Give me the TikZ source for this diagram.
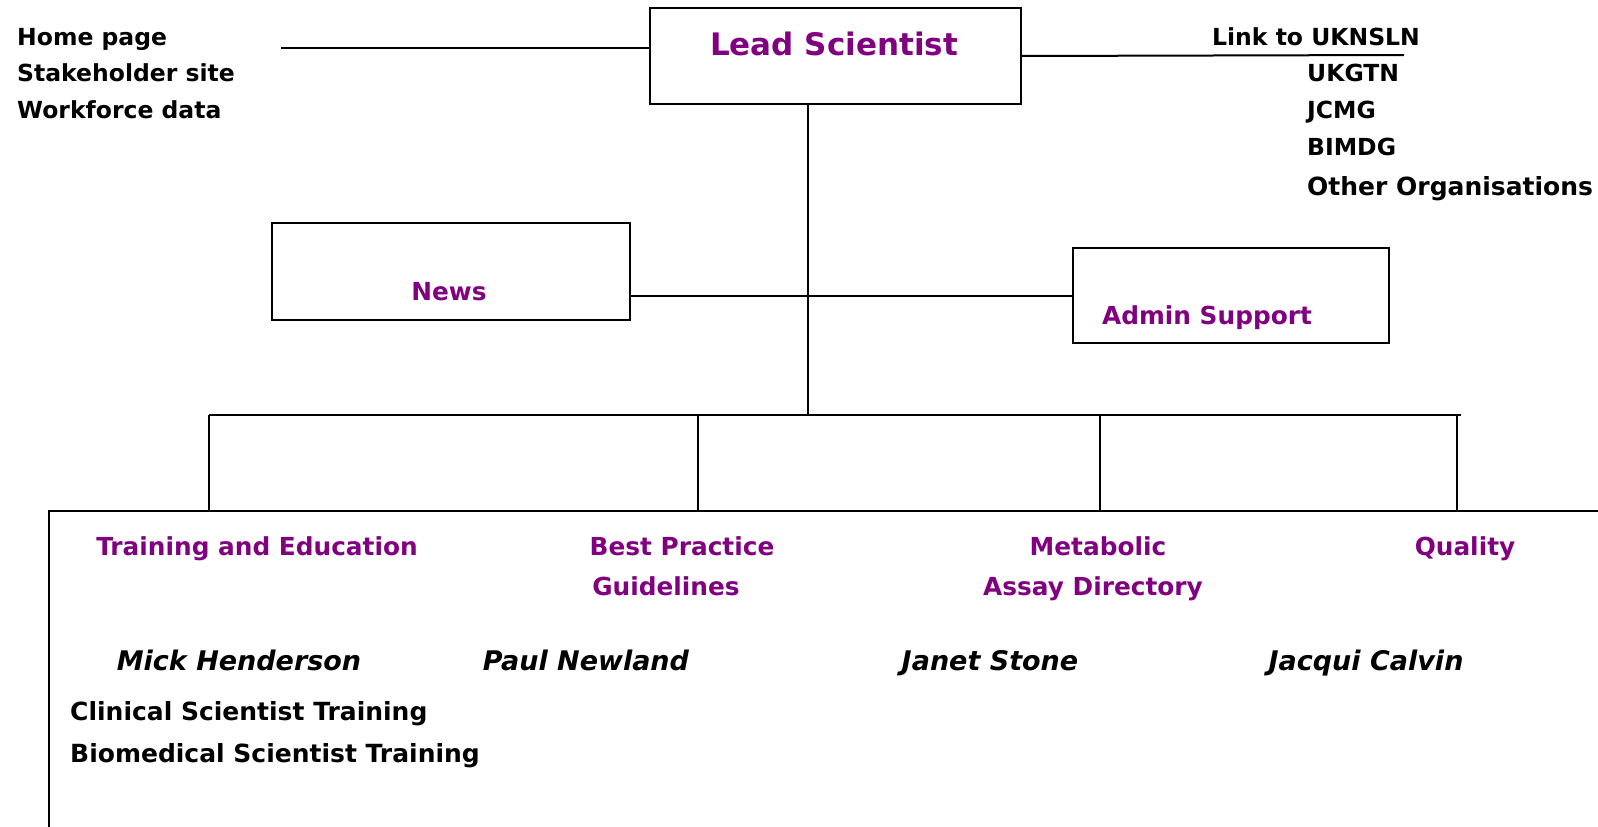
\documentclass[tikz,border=0pt]{standalone}
\usepackage{fontspec}
\setmainfont{DejaVu Sans}
\definecolor{hdr}{RGB}{128,0,128}
\begin{document}
\begin{tikzpicture}[x=1pt,y=-1pt,
  boxn/.style={draw,line width=2pt,inner sep=0pt,anchor=north west},
  conn/.style={line width=2pt},
  purp/.style={text=hdr,font=\fontsize{24.8}{29}\selectfont\bfseries,anchor=mid,inner sep=0pt},
  blk/.style={text=black,font=\fontsize{23.5}{28}\selectfont\bfseries,anchor=mid west,inner sep=0pt},
  blkl/.style={blk,font=\fontsize{25}{30}\selectfont\bfseries},
  nm/.style={text=black,font=\fontsize{27}{32}\selectfont\bfseries\itshape,anchor=mid,inner sep=0pt}]
\useasboundingbox (0,0) rectangle (1598,827);
% boxes
\node[boxn,minimum width=371pt,minimum height=96pt] (lead) at (649,7) {};
\node[boxn,minimum width=358pt,minimum height=97pt] (news) at (271,222) {};
\node[boxn,minimum width=316pt,minimum height=95pt] (admin) at (1072,247) {};
% texts
\node[purp,font=\fontsize{31}{36}\selectfont\bfseries] (leadt) at (834,53) {Lead Scientist};
\node[purp] (newst) at (449,298) {News};
\node[purp] (admint) at (1207,322) {Admin Support};
\node[blk] (hp) at (17,43) {Home page};
\node[blk] (sh) at (17,79) {Stakeholder site};
\node[blk] (wf) at (17,116) {Workforce data};
\node[blk,anchor=mid] (lk) at (1316,43) {Link to UKNSLN};
\node[blk] (uk) at (1307,79) {UKGTN};
\node[blk] (jc) at (1307,116) {JCMG};
\node[blk] (bi) at (1307,153) {BIMDG};
\node[blkl] (ot) at (1307,193) {Other Organisations};
% coordinates
\coordinate (hl) at (281,48);
\coordinate (lr) at (1404,55);
\coordinate (tb) at (808,415);
\coordinate (nj) at (808,296);
\coordinate (bl) at (209,415);
\coordinate (br) at (1461,415);
\coordinate (d1) at (209,511);
\coordinate (d2) at (698,511);
\coordinate (d3) at (1100,511);
\coordinate (d4) at (1457,511);
\coordinate (bxa) at (49,827);
\coordinate (bxb) at (49,511);
\coordinate (bxc) at (1598,511);
% connectors
\draw[conn] (hl) -- (hl -| lead.west);
\draw[conn] (lead.east) -- (lr);
\draw[conn] (lead.south -| tb) -- (tb);
\draw[conn] (news.east |- nj) -- (nj) -- (admin.west |- nj);
\draw[conn] (bl) -- (br);
\draw[conn] (bl) -- (d1);
\draw[conn] (d2 |- bl) -- (d2);
\draw[conn] (d3 |- bl) -- (d3);
\draw[conn] (d4 |- bl) -- (d4);
\draw[conn] (bxa) -- (bxb) -- (bxc);
% lower texts
\node[purp] (te) at (257,553) {Training and Education};
\node[purp] (bp1) at (682,553) {Best Practice};
\node[purp] (bp2) at (666,593) {Guidelines};
\node[purp] (ma1) at (1098,553) {Metabolic};
\node[purp] (ma2) at (1093,593) {Assay Directory};
\node[purp] (qu) at (1465,553) {Quality};
\node[nm] (mh) at (239,668) {Mick Henderson};
\node[nm] (pn) at (586,668) {Paul Newland};
\node[nm] (js) at (990,668) {Janet Stone};
\node[nm] (jq) at (1366,668) {Jacqui Calvin};
\node[blkl] (cs) at (70,718) {Clinical Scientist Training};
\node[blkl] (bs) at (70,760) {Biomedical Scientist Training};
\end{tikzpicture}
\end{document}
